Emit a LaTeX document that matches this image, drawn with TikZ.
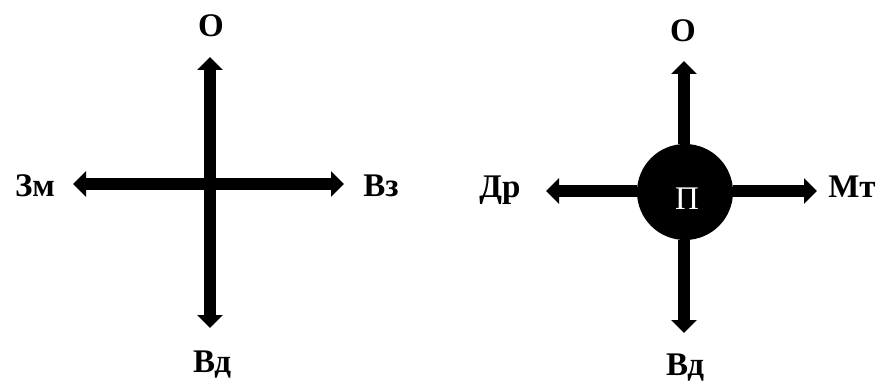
\documentclass[tikz,border=0pt]{standalone}
\usepackage{fontspec}
\setmainfont{Liberation Serif}
\usetikzlibrary{arrows.meta,positioning}
\tikzset{
  lbl/.style={font=\fontsize{33}{38}\selectfont\bfseries, inner sep=0pt, anchor=base},
  axarr/.style={line width=12pt, -{Triangle[width=25pt,length=13pt]}},
  dblarr/.style={line width=12pt, {Triangle[width=25pt,length=13pt]}-{Triangle[width=25pt,length=13pt]}},
  hub/.style={circle, fill=black, minimum size=96pt, inner sep=0pt,
    text=white, font=\fontsize{33}{38}\selectfont},
}
\begin{document}
\begin{tikzpicture}[x=1pt,y=-1pt]
  \useasboundingbox (0,0) rectangle (883,385);
  % left cross
  \coordinate (ltop) at (210,57);
  \coordinate (lbot) at (210,328);
  \coordinate (lleft) at (73,184);
  \coordinate (lright) at (344,184);
  \draw[dblarr] (ltop) -- (lbot);
  \draw[dblarr] (lleft) -- (lright);
  \node[lbl] (lo) at (211,37) {О};
  \node[lbl] (lzm) at (35,196) {Зм};
  \node[lbl] (lvz) at (381,196) {Вз};
  \node[lbl] (lvd) at (212,372) {Вд};
  % right cross with hub
  \node[hub] (pc) at (685,192) {};
  \node[font=\fontsize{33}{38}\selectfont, text=white, inner sep=0pt, anchor=base] (pl) at (687,209) {П};
  \coordinate (rtop) at (684,61);
  \coordinate (rbot) at (684,333);
  \coordinate (rleft) at (546,191);
  \coordinate (rright) at (817,191);
  \draw[axarr] (pc.north -| rtop) -- (rtop);
  \draw[axarr] (pc.south -| rbot) -- (rbot);
  \draw[axarr] (pc.west |- rleft) -- (rleft);
  \draw[axarr] (pc.east |- rright) -- (rright);
  \node[lbl] (ro) at (683,42) {О};
  \node[lbl] (rdr) at (500,197) {Др};
  \node[lbl] (rmt) at (852,197) {Мт};
  \node[lbl] (rvd) at (685,375) {Вд};
\end{tikzpicture}
\end{document}
